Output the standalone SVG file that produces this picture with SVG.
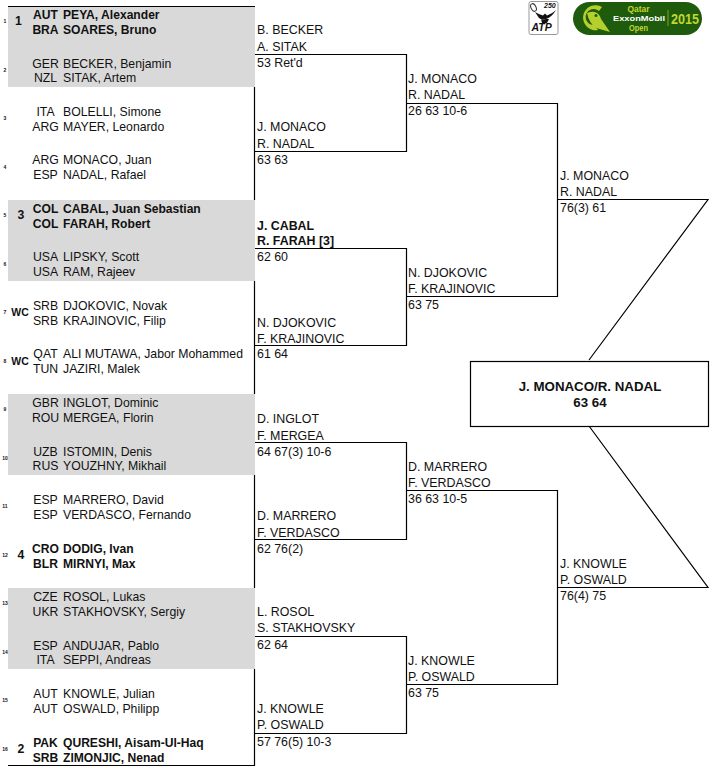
<svg xmlns="http://www.w3.org/2000/svg" width="713" height="768" viewBox="0 0 713 768">
<style>
text{font-family:"Liberation Sans",Arial,sans-serif;font-size:12.25px;fill:#111}
.b{font-weight:bold;font-size:12.1px}
.c{text-anchor:middle}
.n{font-size:5px;font-weight:bold;text-anchor:middle}
.s{font-weight:bold;text-anchor:middle}
.w{font-size:10.5px}
.r{font-size:12.4px}
.f{font-size:13.3px}
.band{fill:#d9d9d9}
.ln{stroke:#000;stroke-width:1.2;fill:none}
</style>
<g id="bands">
<rect class="band" x="8" y="7" width="247" height="80"/>
<rect class="band" x="8" y="200" width="247" height="81"/>
<rect class="band" x="8" y="394" width="247" height="81"/>
<rect class="band" x="8" y="588" width="247" height="81"/>
</g>
<g id="connectors">
<path class="ln" d="M8 6.500H255M8 765.500H255"/>
<path class="ln" d="M254.500 87V200M254.500 281V394M254.500 475V588M254.500 669V766"/>
<path class="ln" d="M255 54.500H406.500V151.500H255M255 248.500H406.500V345.500H255M255 442.500H406.500V539.500H255M255 636.500H406.500V733.500H255"/>
<path class="ln" d="M406.500 103.500H557.500V296.500H406.500M406.500 490.500H557.500V684.500H406.500"/>
<path class="ln" d="M557.500 199.500H708L589 360M589 426L708 587.500H557.500"/>
</g>
<g id="player-1"><text class="n" x="5" y="23">1</text><text class="s" x="18.500" y="25">1</text><text class="b c" x="45.500" y="19">AUT</text><text class="b" x="63" y="19">PEYA, Alexander</text><text class="b c" x="45.500" y="34">BRA</text><text class="b" x="63" y="34">SOARES, Bruno</text></g>
<g id="player-2"><text class="n" x="5" y="72">2</text><text class="c" x="45.500" y="68">GER</text><text x="63" y="68">BECKER, Benjamin</text><text class="c" x="45.500" y="82">NZL</text><text x="63" y="82">SITAK, Artem</text></g>
<g id="player-3"><text class="n" x="5" y="120">3</text><text class="c" x="45.500" y="116">ITA</text><text x="63" y="116">BOLELLI, Simone</text><text class="c" x="45.500" y="131">ARG</text><text x="63" y="131">MAYER, Leonardo</text></g>
<g id="player-4"><text class="n" x="5" y="169">4</text><text class="c" x="45.500" y="164">ARG</text><text x="63" y="164">MONACO, Juan</text><text class="c" x="45.500" y="179">ESP</text><text x="63" y="179">NADAL, Rafael</text></g>
<g id="player-5"><text class="n" x="5" y="217">5</text><text class="s" x="21" y="219">3</text><text class="b c" x="45.500" y="213">COL</text><text class="b" x="63" y="213">CABAL, Juan Sebastian</text><text class="b c" x="45.500" y="228">COL</text><text class="b" x="63" y="228">FARAH, Robert</text></g>
<g id="player-6"><text class="n" x="5" y="266">6</text><text class="c" x="45.500" y="261">USA</text><text x="63" y="261">LIPSKY, Scott</text><text class="c" x="45.500" y="276">USA</text><text x="63" y="276">RAM, Rajeev</text></g>
<g id="player-7"><text class="n" x="5" y="314">7</text><text class="s w" x="20" y="316">WC</text><text class="c" x="45.500" y="310">SRB</text><text x="63" y="310">DJOKOVIC, Novak</text><text class="c" x="45.500" y="325">SRB</text><text x="63" y="325">KRAJINOVIC, Filip</text></g>
<g id="player-8"><text class="n" x="5" y="363">8</text><text class="s w" x="20" y="365">WC</text><text class="c" x="45.500" y="358">QAT</text><text x="63" y="358">ALI MUTAWA, Jabor Mohammed</text><text class="c" x="45.500" y="373">TUN</text><text x="63" y="373">JAZIRI, Malek</text></g>
<g id="player-9"><text class="n" x="5" y="411">9</text><text class="c" x="45.500" y="407">GBR</text><text x="63" y="407">INGLOT, Dominic</text><text class="c" x="45.500" y="422">ROU</text><text x="63" y="422">MERGEA, Florin</text></g>
<g id="player-10"><text class="n" x="5" y="460">10</text><text class="c" x="45.500" y="456">UZB</text><text x="63" y="456">ISTOMIN, Denis</text><text class="c" x="45.500" y="470">RUS</text><text x="63" y="470">YOUZHNY, Mikhail</text></g>
<g id="player-11"><text class="n" x="5" y="508">11</text><text class="c" x="45.500" y="504">ESP</text><text x="63" y="504">MARRERO, David</text><text class="c" x="45.500" y="519">ESP</text><text x="63" y="519">VERDASCO, Fernando</text></g>
<g id="player-12"><text class="n" x="5" y="557">12</text><text class="s" x="21" y="559">4</text><text class="b c" x="45.500" y="553">CRO</text><text class="b" x="63" y="553">DODIG, Ivan</text><text class="b c" x="45.500" y="568">BLR</text><text class="b" x="63" y="568">MIRNYI, Max</text></g>
<g id="player-13"><text class="n" x="5" y="605">13</text><text class="c" x="45.500" y="601">CZE</text><text x="63" y="601">ROSOL, Lukas</text><text class="c" x="45.500" y="616">UKR</text><text x="63" y="616">STAKHOVSKY, Sergiy</text></g>
<g id="player-14"><text class="n" x="5" y="654">14</text><text class="c" x="45.500" y="650">ESP</text><text x="63" y="650">ANDUJAR, Pablo</text><text class="c" x="45.500" y="664">ITA</text><text x="63" y="664">SEPPI, Andreas</text></g>
<g id="player-15"><text class="n" x="5" y="702">15</text><text class="c" x="45.500" y="698">AUT</text><text x="63" y="698">KNOWLE, Julian</text><text class="c" x="45.500" y="713">AUT</text><text x="63" y="713">OSWALD, Philipp</text></g>
<g id="player-16"><text class="n" x="5" y="751">16</text><text class="s" x="21" y="753">2</text><text class="b c" x="45.500" y="747">PAK</text><text class="b" x="63" y="747">QURESHI, Aisam-Ul-Haq</text><text class="b c" x="45.500" y="762">SRB</text><text class="b" x="63" y="762">ZIMONJIC, Nenad</text></g>
<g id="r2-1"><text class="r" x="257" y="34">B. BECKER</text><text class="r" x="257" y="51">A. SITAK</text><text class="r" x="257" y="67">53 Ret'd</text></g>
<g id="r2-2"><text class="r" x="257" y="131">J. MONACO</text><text class="r" x="257" y="148">R. NADAL</text><text class="r" x="257" y="164">63 63</text></g>
<g id="r2-3"><text class="r b" x="257" y="230">J. CABAL</text><text class="r b" x="257" y="245">R. FARAH [3]</text><text class="r" x="257" y="261">62 60</text></g>
<g id="r2-4"><text class="r" x="257" y="327">N. DJOKOVIC</text><text class="r" x="257" y="343">F. KRAJINOVIC</text><text class="r" x="257" y="358">61 64</text></g>
<g id="r2-5"><text class="r" x="257" y="423">D. INGLOT</text><text class="r" x="257" y="440">F. MERGEA</text><text class="r" x="257" y="456">64 67(3) 10-6</text></g>
<g id="r2-6"><text class="r" x="257" y="520">D. MARRERO</text><text class="r" x="257" y="537">F. VERDASCO</text><text class="r" x="257" y="553">62 76(2)</text></g>
<g id="r2-7"><text class="r" x="257" y="616">L. ROSOL</text><text class="r" x="257" y="632">S. STAKHOVSKY</text><text class="r" x="257" y="649">62 64</text></g>
<g id="r2-8"><text class="r" x="257" y="713">J. KNOWLE</text><text class="r" x="257" y="729">P. OSWALD</text><text class="r" x="257" y="746">57 76(5) 10-3</text></g>
<g id="qf-1"><text class="r" x="408" y="83">J. MONACO</text><text class="r" x="408" y="99">R. NADAL</text><text class="r" x="408" y="115">26 63 10-6</text></g>
<g id="qf-2"><text class="r" x="408" y="277">N. DJOKOVIC</text><text class="r" x="408" y="293">F. KRAJINOVIC</text><text class="r" x="408" y="309">63 75</text></g>
<g id="qf-3"><text class="r" x="408" y="471">D. MARRERO</text><text class="r" x="408" y="487">F. VERDASCO</text><text class="r" x="408" y="503">36 63 10-5</text></g>
<g id="qf-4"><text class="r" x="408" y="665">J. KNOWLE</text><text class="r" x="408" y="681">P. OSWALD</text><text class="r" x="408" y="697">63 75</text></g>
<g id="sf-1"><text class="r" x="560" y="180">J. MONACO</text><text class="r" x="560" y="196">R. NADAL</text><text class="r" x="560" y="212">76(3) 61</text></g>
<g id="sf-2"><text class="r" x="560" y="568">J. KNOWLE</text><text class="r" x="560" y="584">P. OSWALD</text><text class="r" x="560" y="600">76(4) 75</text></g>
<g id="final"><rect x="470.500" y="361.500" width="238" height="65" fill="#fff" stroke="#000" stroke-width="1.200"/><text class="b c f" x="590" y="391">J. MONACO/R. NADAL</text><text class="b c f" x="590" y="407">63 64</text></g>
<g id="logo-atp"><rect x="529" y="1.500" width="29" height="33" rx="2" fill="#fff" stroke="#999"/><ellipse cx="533.500" cy="7.500" rx="2.500" ry="4" transform="rotate(-25 533.500 7.500)" fill="none" stroke="#333"/><path d="M535 12L539 18Q541 20 546 19Q551 18 556 10Q552 14 547 15.500L545 13.500L543 15.500Q540 15 535 12ZM541 19L549 19L547 23H542Z" fill="#111"/><text x="544" y="8" style="font-size:7px;font-weight:bold;font-style:italic">250</text><text x="531.500" y="31" style="font-size:10.500px;font-weight:bold;font-style:italic">ATP</text></g>
<g id="logo-qatar"><rect x="573" y="2" width="129" height="33" rx="16.500" fill="#1e5b0c"/><path d="M602 7A12.500 12.500 0 1 0 598 30L594 25A8 8 0 1 1 599 11Z" fill="#b5cf2e"/><path d="M587 13Q598 9 601 19L610 32L596 28Q589 23 587 13Z" fill="#b5cf2e"/><circle cx="596" cy="15.500" r="1.500" fill="#1e5b0c"/><text class="c" x="638.500" y="12" textLength="22" lengthAdjust="spacingAndGlyphs" style="font-size:8.500px;font-weight:bold;fill:#c3d62f">Qatar</text><text class="c" x="639" y="21" textLength="52" lengthAdjust="spacingAndGlyphs" style="font-size:8px;font-weight:bold;fill:#fff">ExxonMobil</text><text class="c" x="638.500" y="31" textLength="19" lengthAdjust="spacingAndGlyphs" style="font-size:8.500px;font-weight:bold;fill:#c3d62f">Open</text><path d="M668 10V26" stroke="#c3d62f" stroke-width="0.600"/><text x="671" y="24" textLength="28" lengthAdjust="spacingAndGlyphs" style="font-size:14px;font-weight:bold;fill:#c3d62f">2015</text></g>
</svg>
